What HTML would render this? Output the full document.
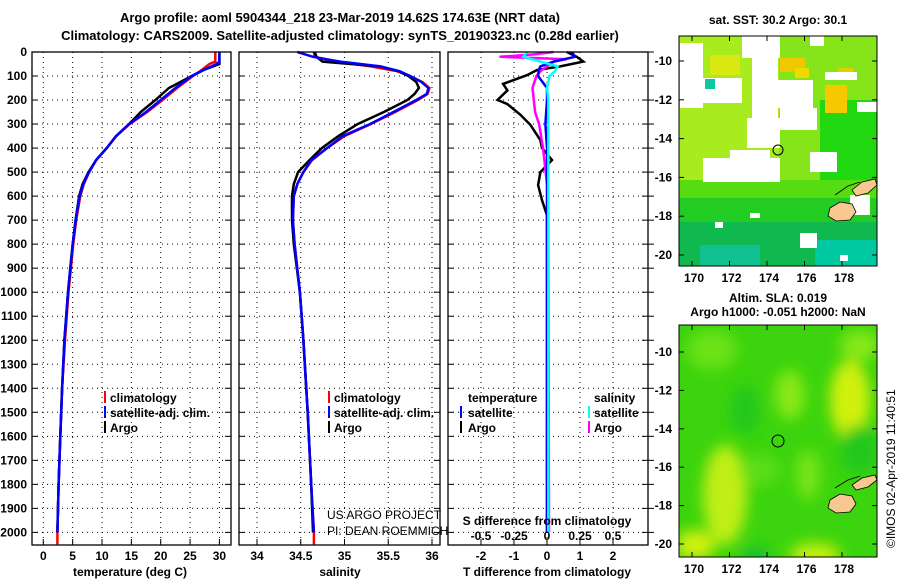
<!DOCTYPE html>
<html><head><meta charset="utf-8"><style>
body{margin:0;background:#fff;width:900px;height:580px;overflow:hidden}
svg{display:block;font-family:"Liberation Sans",sans-serif}
.b{font-weight:bold;font-size:12px}
.t{font-weight:bold;font-size:13px}
</style></head><body>
<svg id="s" width="900" height="580" viewBox="0 0 900 580">
<defs>
<filter id="bl" x="-50%" y="-50%" width="200%" height="200%"><feGaussianBlur stdDeviation="7"/></filter>
<clipPath id="c1"><rect x="679" y="36" width="198" height="230"/></clipPath>
<clipPath id="c2"><rect x="679" y="325" width="198" height="232"/></clipPath>
</defs>
<text class="t" x="340" y="22" text-anchor="middle">Argo profile: aoml 5904344_218 23-Mar-2019 14.62S 174.63E (NRT data)</text>
<text class="t" x="340" y="40" text-anchor="middle">Climatology: CARS2009. Satellite-adjusted climatology: synTS_20190323.nc (0.28d earlier)</text>
<g id="grid"></g>
<g id="lines"></g>
<g id="axes"></g>
<g class="b">
<line x1="105" y1="391" x2="105" y2="403" stroke="#f00" stroke-width="2"/><text x="110" y="402">climatology</text>
<line x1="105" y1="406" x2="105" y2="418" stroke="#00f" stroke-width="2"/><text x="110" y="417">satellite-adj. clim.</text>
<line x1="105" y1="421" x2="105" y2="433" stroke="#000" stroke-width="2"/><text x="110" y="432">Argo</text>
</g>
<g class="b">
<line x1="329" y1="391" x2="329" y2="403" stroke="#f00" stroke-width="2"/><text x="334" y="402">climatology</text>
<line x1="329" y1="406" x2="329" y2="418" stroke="#00f" stroke-width="2"/><text x="334" y="417">satellite-adj. clim.</text>
<line x1="329" y1="421" x2="329" y2="433" stroke="#000" stroke-width="2"/><text x="334" y="432">Argo</text>
</g>
<g class="b">
<text x="468" y="402">temperature</text>
<line x1="461" y1="406" x2="461" y2="418" stroke="#00f" stroke-width="2"/><text x="468" y="417">satellite</text>
<line x1="461" y1="421" x2="461" y2="433" stroke="#000" stroke-width="2"/><text x="468" y="432">Argo</text>
<text x="594" y="402">salinity</text>
<line x1="589" y1="406" x2="589" y2="418" stroke="#0ff" stroke-width="2"/><text x="594" y="417">satellite</text>
<line x1="589" y1="421" x2="589" y2="433" stroke="#f0f" stroke-width="2"/><text x="594" y="432">Argo</text>
</g>
<text x="327" y="519" font-size="12">US ARGO PROJECT</text>
<text x="327" y="535" font-size="12">PI: DEAN ROEMMICH</text>
<text class="b" x="547" y="525" text-anchor="middle">S difference from climatology</text>
<g id="sdiffticks" class="b"></g>
<text class="b" x="130" y="576" text-anchor="middle">temperature (deg C)</text>
<text class="b" x="340" y="576" text-anchor="middle">salinity</text>
<text class="b" x="547" y="576" text-anchor="middle">T difference from climatology</text>

<text class="b" x="778" y="24" text-anchor="middle">sat. SST: 30.2 Argo: 30.1</text>
<g clip-path="url(#c1)">
<rect x="679" y="36" width="198" height="230" fill="#86e41a"/>
<rect x="679" y="36" width="100" height="150" fill="#a8ec20"/>
<rect x="820" y="100" width="57" height="90" fill="#22d811"/>
<rect x="679" y="180" width="198" height="20" fill="#55dd11"/>
<rect x="679" y="198" width="198" height="68" fill="#22cc22"/>
<rect x="679" y="222" width="198" height="44" fill="#10b850"/>
<rect x="700" y="245" width="60" height="21" fill="#10c090"/>
<rect x="815" y="240" width="62" height="26" fill="#00c8a0"/>
<rect x="710" y="55" width="30" height="20" fill="#d8e810"/>
<rect x="780" y="58" width="25" height="14" fill="#f0c800"/>
<rect x="795" y="68" width="14" height="10" fill="#f0d800"/>
<rect x="825" y="85" width="22" height="28" fill="#f5c800"/>
<rect x="838" y="68" width="15" height="12" fill="#e0d000"/>
<g fill="#fff">
<rect x="680" y="43" width="23" height="65"/>
<rect x="703" y="78" width="39" height="25"/>
<rect x="742" y="36" width="38" height="22"/>
<rect x="752" y="58" width="26" height="67"/>
<rect x="758" y="80" width="55" height="28"/>
<rect x="747" y="118" width="33" height="30"/>
<rect x="780" y="108" width="37" height="22"/>
<rect x="703" y="158" width="77" height="24"/>
<rect x="730" y="150" width="40" height="10"/>
<rect x="810" y="152" width="27" height="20"/>
<rect x="825" y="72" width="32" height="8"/>
<rect x="810" y="36" width="14" height="10"/>
<rect x="857" y="102" width="20" height="10"/>
<rect x="750" y="213" width="10" height="5"/>
<rect x="715" y="222" width="8" height="6"/>
<rect x="800" y="233" width="17" height="15"/>
<rect x="840" y="255" width="8" height="6"/>
<rect x="850" y="195" width="20" height="20"/>
</g>
<rect x="705" y="79" width="10" height="10" fill="#10c8a0"/>
<path d="M852 190 L862 182 L875 179 L877 185 L868 193 L856 196 Z" fill="#f8c890" stroke="#000" stroke-width="0.8"/>
<path d="M830 208 L840 202 L852 204 L856 212 L850 220 L836 221 L828 216 Z" fill="#f8c890" stroke="#000" stroke-width="0.8"/>
<path d="M835 195 L848 186 L860 182" fill="none" stroke="#000" stroke-width="0.8"/>
<circle cx="778" cy="150" r="5" fill="none" stroke="#000" stroke-width="1"/>
</g>
<rect x="679" y="36" width="198" height="230" fill="none" stroke="#000" stroke-width="1"/>
<g id="m1ticks" class="b"></g>

<text class="b" x="778" y="302" text-anchor="middle">Altim. SLA: 0.019</text>
<text class="b" x="778" y="316" text-anchor="middle">Argo h1000: -0.051 h2000: NaN</text>
<g clip-path="url(#c2)">
<rect x="679" y="325" width="198" height="232" fill="#3cd40e"/>
<g filter="url(#bl)">
<ellipse cx="712" cy="350" rx="25" ry="20" fill="#6ae214"/>
<ellipse cx="850" cy="400" rx="20" ry="40" fill="#d2f010"/>
<ellipse cx="725" cy="495" rx="22" ry="50" fill="#c0ee14"/>
<ellipse cx="695" cy="545" rx="20" ry="15" fill="#d0f010"/>
<ellipse cx="815" cy="555" rx="25" ry="12" fill="#c8ee10"/>
<ellipse cx="790" cy="395" rx="15" ry="25" fill="#88e818"/>
<ellipse cx="860" cy="345" rx="20" ry="15" fill="#88e818"/>
<ellipse cx="808" cy="475" rx="12" ry="25" fill="#78e418"/>
<ellipse cx="760" cy="470" rx="20" ry="15" fill="#5ade14"/>
<ellipse cx="745" cy="410" rx="15" ry="25" fill="#22c81a"/>
<ellipse cx="860" cy="450" rx="20" ry="25" fill="#22c81a"/>
<ellipse cx="755" cy="555" rx="15" ry="8" fill="#18bb30"/>
</g>
<path d="M852 485 L862 478 L875 475 L877 480 L868 487 L856 490 Z" fill="#f8c890" stroke="#000" stroke-width="0.8"/>
<path d="M830 500 L840 494 L852 496 L856 504 L850 512 L836 513 L828 508 Z" fill="#f8c890" stroke="#000" stroke-width="0.8"/>
<path d="M835 488 L848 480 L860 476" fill="none" stroke="#000" stroke-width="0.8"/>
<circle cx="778" cy="441" r="6" fill="none" stroke="#000" stroke-width="1"/>
</g>
<rect x="679" y="325" width="198" height="232" fill="none" stroke="#000" stroke-width="1"/>
<g id="m2ticks" class="b"></g>
<text x="0" y="0" font-size="12" transform="translate(895,548) rotate(-90)">©IMOS 02-Apr-2019 11:40:51</text>
</svg>
<script>
// ---- data ----
const depthTicks = [0,100,200,300,400,500,600,700,800,900,1000,1100,1200,1300,1400,1500,1600,1700,1800,1900,2000];
const tempTicks = [0,5,10,15,20,25,30];
const salTicks = [34,34.5,35,35.5,36];
const salTickLabels = ["34","34.5","35","35.5","36"];
const tdiffTicks = [-2,-1,0,1,2];
const sdiffTicks = [-0.5,-0.25,0,0.25,0.5];
const sdiffTickLabels = ["-0.5","-0.25","0","0.25","0.5"];

const depthClim = [0,20,40,50,75,100,150,200,250,300,350,400,450,500,550,600,700,800,900,1000,1200,1400,1600,1800,2000,2050];
const tempClim = [29.3,29.3,29.3,28.3,27.0,25.5,22.8,20.3,17.7,14.7,12.4,10.8,9.0,7.8,6.9,6.3,5.6,5.1,4.7,4.3,3.7,3.2,2.9,2.6,2.4,2.4];
const depthProf = [0,20,40,50,75,100,150,200,250,300,350,400,450,500,550,600,700,800,900,1000,1200,1400,1600,1800,2000];
const tempSat = [30.0,30.0,30.0,29.5,27.3,25.3,22.5,20.0,17.5,14.6,12.4,10.8,9.0,7.8,6.8,6.2,5.5,5.0,4.6,4.2,3.6,3.2,2.9,2.6,2.4];
const tempArgo = [30.0,30.0,30.0,30.0,27.3,25.3,21.4,19.1,16.6,14.6,12.4,10.8,9.0,7.7,6.7,6.1,5.5,5.0,4.6,4.2,3.6,3.2,2.9,2.6,2.4];

const depthSalC = [0,20,40,60,80,100,125,150,175,200,250,300,350,400,450,500,550,600,700,800,1000,1200,1500,1800,2000,2050];
const salClim = [34.65,34.66,34.9,35.3,35.6,35.75,35.89,35.97,35.95,35.84,35.58,35.3,35.0,34.8,34.63,34.53,34.46,34.42,34.41,34.43,34.49,34.53,34.58,34.62,34.65,34.65];
const depthSal = [0,20,40,60,80,100,125,150,175,200,250,300,350,400,450,500,550,600,700,800,1000,1200,1500,1800,2000];
const salSat = [34.46,34.64,34.95,35.41,35.63,35.75,35.88,35.96,35.94,35.82,35.56,35.29,34.98,34.8,34.62,34.53,34.46,34.42,34.41,34.43,34.49,34.53,34.58,34.62,34.65];
const salArgo = [34.66,34.68,34.75,35.4,35.62,35.73,35.82,35.85,35.8,35.72,35.45,35.15,34.93,34.74,34.6,34.47,34.42,34.4,34.4,34.42,34.49,34.53,34.58,34.62,34.64];

const depthTA = [0,20,40,60,75,96,133,160,200,217,262,304,367,400,450,500,554,617,680,800,1000,1500,2000];
const tdiffArgo = [0.6,0.9,1.1,0.4,-0.3,-0.6,-1.33,-1.2,-1.5,-1.2,-0.8,-0.5,-0.2,-0.15,0.15,-0.2,-0.27,-0.15,0,0,0,0,0];
const depthTS = [0,20,40,60,75,100,150,200,300,400,600,1000,2000];
const tdiffSat = [0.76,0.85,0.2,-0.2,-0.25,-0.27,0,0,-0.05,0,0,0,0];
const depthSS = [0,20,40,60,80,100,150,200,300,400,600,1000,2000];
const sdiffSat = [-0.15,-0.18,-0.05,0.08,0.06,0.02,0,0.01,0.01,0.01,0.01,0.01,0.01];
const depthSA = [0,10,20,30,40,60,80,100,150,200,250,300,400,500,600,2000];
const sdiffArgo = [0.05,-0.1,-0.36,0.15,0.05,0,-0.05,-0.08,-0.11,-0.1,-0.09,-0.06,-0.03,-0.01,0.01,0.015];

const lonTicks = [170,172,174,176,178];
const latTicks = [-10,-12,-14,-16,-18,-20];

// ---- scales ----
const Y0 = 52, YB = 545;
const y = d => Y0 + d*0.2402;
const xT = t => 43.3 + t*5.87;
const xS = s => 257 + (s-34)*87.5;
const xTD = v => 547 + v*33;
const xSD = v => 547 + v*132;
const NS = "http://www.w3.org/2000/svg";
function mk(tag, attrs, parent){const e=document.createElementNS(NS,tag);for(const k in attrs)e.setAttribute(k,attrs[k]);parent.appendChild(e);return e;}
const grid = document.getElementById('grid'), lines = document.getElementById('lines'), axes = document.getElementById('axes');
const panels = [[32,231,tempTicks,xT],[239,440,salTicks,xS],[448,648,tdiffTicks,xTD]];
const panelNames = ['temperature-panel','salinity-panel','difference-panel'];
panels.forEach((p,i)=>{
  const [l,r,ticks,fx]=p;
  depthTicks.forEach(d=>{ if(d>0){
    const g=mk('line',{x1:l,x2:r,y1:y(d),y2:y(d),stroke:'#000','stroke-width':1,'stroke-dasharray':'1 4'},grid);
    
    
    mk('line',{x1:l,x2:l+6,y1:y(d),y2:y(d),stroke:'#000'},axes);
    mk('line',{x1:r,x2:r-6,y1:y(d),y2:y(d),stroke:'#000'},axes);
  }});
  ticks.forEach((v,j)=>{
    const xx=fx(v);
    const g=mk('line',{x1:xx,x2:xx,y1:Y0,y2:YB,stroke:'#000','stroke-width':1,'stroke-dasharray':'1 4'},grid);
    
    
    mk('line',{x1:xx,x2:xx,y1:YB,y2:YB-6,stroke:'#000'},axes);
    const lab = i===1 ? salTickLabels[j] : String(v);
    const t=mk('text',{x:xx,y:560,'text-anchor':'middle','class':'b'},axes);
    t.textContent=lab;
    
    
  });
  const fr=mk('rect',{x:l,y:Y0,width:r-l,height:YB-Y0,fill:'none',stroke:'#000','stroke-width':1.3},axes);
  
  
});
depthTicks.forEach(d=>{ mk('line',{x1:648,x2:654,y1:y(d),y2:y(d),stroke:'#000'},axes); });
depthTicks.forEach(d=>{
  const t=mk('text',{x:27,y:y(d)+4,'text-anchor':'end','class':'b'},axes);
  t.textContent=d;
  
  
});
const sdt=document.getElementById('sdiffticks');
sdiffTicks.forEach((v,j)=>{
  const t=mk('text',{x:xSD(v),y:540,'text-anchor':'middle'},sdt);
  t.textContent=sdiffTickLabels[j];
  
  
});
function series(xs,ds,fx,color,name,w){
  const pts=xs.map((v,i)=>fx(v).toFixed(1)+','+y(ds[i]).toFixed(1)).join(' ');
  const p=mk('polyline',{points:pts,fill:'none',stroke:color,'stroke-width':w||2.5,'stroke-linejoin':'miter'},lines);
  
  
}
series(tempClim,depthClim,xT,'#f00','temp-climatology-line');
series(tempArgo,depthProf,xT,'#000','temp-argo-line');
series(tempSat,depthProf,xT,'#00f','temp-satellite-line');
series(salClim,depthSalC,xS,'#f00','sal-climatology-line');
series(salArgo,depthSal,xS,'#000','sal-argo-line');
series(salSat,depthSal,xS,'#00f','sal-satellite-line');
series(tdiffArgo,depthTA,xTD,'#000','tdiff-argo-line');
series(sdiffArgo,depthSA,xSD,'#f0f','sdiff-argo-line');
series(tdiffSat,depthTS,xTD,'#00f','tdiff-satellite-line');
series(sdiffSat,depthSS,xSD,'#0ff','sdiff-satellite-line');
function mapTicks(gid,top,bot,latY,lonX){
  const g=document.getElementById(gid);
  lonTicks.forEach(lo=>{
    const xx=lonX(lo);
    mk('line',{x1:xx,x2:xx,y1:top,y2:top+5,stroke:'#000'},g);
    mk('line',{x1:xx,x2:xx,y1:bot,y2:bot-5,stroke:'#000'},g);
    const t=mk('text',{x:xx+2,y:bot+16,'text-anchor':'middle'},g);
    t.textContent=lo;
    
    
  });
  latTicks.forEach(la=>{
    const yy=latY(la);
    mk('line',{x1:679,x2:684,y1:yy,y2:yy,stroke:'#000'},g);
    mk('line',{x1:877,x2:872,y1:yy,y2:yy,stroke:'#000'},g);
    const t=mk('text',{x:672,y:yy+4,'text-anchor':'end'},g);
    t.textContent=la;
    
    
  });
}
const lonX = lo => 692 + (lo-170)*18.75;
mapTicks('m1ticks',36,266,la=>61+(-10-la)*19.4,lonX);
mapTicks('m2ticks',325,557,la=>352+(-10-la)*19.2,lonX);
</script>
</body></html>
